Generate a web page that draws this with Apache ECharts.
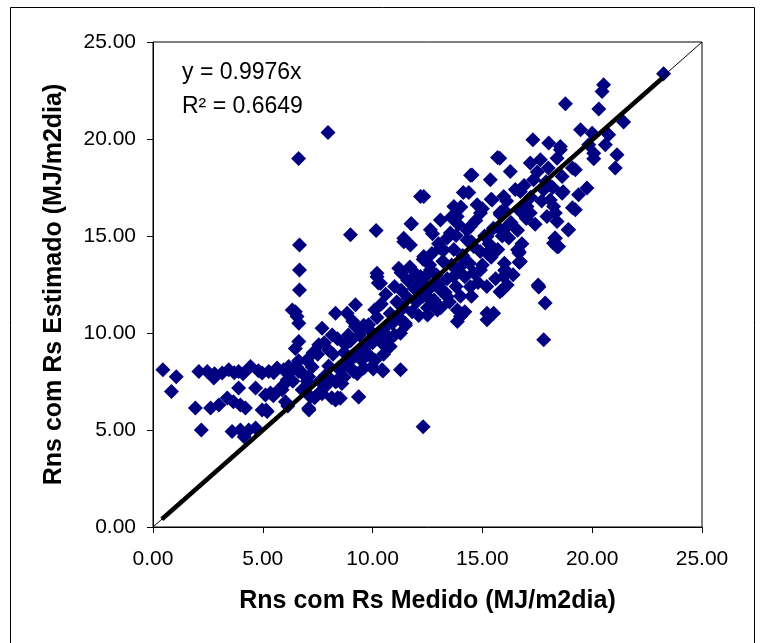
<!DOCTYPE html>
<html lang="pt">
<head>
    <meta charset="utf-8">
    <title>Rns estimado x medido</title>
    <script src="https://cdn.jsdelivr.net/npm/echarts@6/dist/echarts.min.js"></script>
    <style>
        html, body { margin: 0; padding: 0; background: #fff; }
        #chart { width: 764px; height: 643px; }
    </style>
</head>
<body>
<div id="chart"></div>

<script>
    // pontos: [Rns medido, Rns estimado]
    var grupoBaixo = [
        [0.45, 8.1], [1.06, 7.75], [0.84, 6.98], [2.2, 5.0], [1.93, 6.14], [2.09, 8.01], [2.47, 8.01],
        [2.62, 6.14], [3.0, 6.29], [2.77, 7.68], [3.15, 7.94], [3.45, 8.1], [3.38, 6.65], [3.66, 6.46],
        [3.9, 7.17], [3.98, 6.29], [4.21, 6.14], [3.9, 8.01], [4.44, 8.27], [4.67, 7.17], [4.97, 7.94],
        [5.27, 8.01], [5.12, 6.81], [5.35, 6.91], [5.65, 8.2], [5.95, 8.1], [5.88, 7.07], [5.58, 6.91],
        [3.6, 4.92], [3.98, 5.0], [4.36, 5.0], [4.67, 5.1], [4.97, 6.03], [5.2, 5.95], [6.11, 7.58],
        [4.15, 4.65], [5.15, 6.03], [5.48, 6.77], [5.92, 7.3], [6.37, 7.51], [6.14, 6.24], [6.03, 6.46],
        [6.79, 7.07], [7.17, 6.72], [7.09, 6.12], [7.1, 6.03], [7.36, 6.66], [7.55, 6.9], [7.7, 6.87],
        [8.14, 6.66], [8.41, 6.66], [8.53, 6.64], [8.31, 6.55], [9.37, 6.72], [9.36, 6.7],
        [2.8, 7.9], [3.7, 7.95], [4.1, 7.9], [4.8, 8.05], [5.5, 7.95], [6.3, 8.05]
    ];

    var colunaSeis = [
        [6.63, 18.99], [6.67, 14.54], [6.67, 13.25], [6.67, 12.22], [6.34, 11.19], [6.48, 11.1],
        [6.56, 10.85], [6.64, 10.5], [6.64, 9.56], [6.48, 9.2], [6.63, 8.57], [6.37, 8.14],
        [6.18, 8.27], [6.64, 8.01], [6.54, 8.25], [6.81, 7.93], [7.09, 7.75], [7.03, 7.51],
        [7.25, 8.25], [7.59, 7.51], [7.87, 7.83], [7.85, 7.24], [8.31, 7.49], [8.36, 7.51],
        [8.58, 8.14], [8.7, 7.72], [9.14, 8.04], [9.14, 8.01]
    ];

    var transicao = [
        [7.97, 20.33], [8.99, 15.06], [10.16, 15.28], [7.7, 10.25], [8.16, 9.9], [9.22, 10.33],
        [9.82, 10.42], [11.49, 10.5], [7.55, 9.39], [8.0, 9.13], [8.76, 9.39], [9.52, 9.13],
        [10.43, 9.47], [11.27, 9.99], [9.98, 8.27], [10.43, 8.1], [11.27, 8.1], [9.22, 11.45],
        [8.31, 11.02], [8.84, 11.02], [7.5, 8.9], [7.8, 9.5], [8.0, 8.3], [8.2, 8.9], [8.4, 9.7],
        [8.5, 8.1], [8.7, 9.0], [8.9, 8.5], [8.9, 9.9], [9.1, 10.6], [7.3, 9.0], [7.0, 8.6],
        [8.1, 7.6], [8.6, 7.4], [9.3, 7.9], [9.6, 8.2], [10.03, 8.14], [10.47, 8.04],
        [10.8, 9.31], [10.69, 9.83]
    ];

    var nucleo = [
        [9.0, 9.6], [9.2, 8.8], [9.4, 9.9], [9.5, 8.6], [9.6, 10.4], [9.7, 9.3], [9.8, 8.9],
        [9.9, 10.1], [10.0, 9.5], [10.1, 11.2], [10.1, 8.6], [10.2, 10.8], [10.3, 9.8], [10.4, 11.5],
        [10.5, 10.2], [10.5, 8.9], [10.6, 12.0], [10.7, 9.6], [10.8, 11.0], [10.9, 10.5], [11.0, 12.4],
        [11.0, 9.9], [11.1, 11.6], [11.2, 10.8], [11.3, 13.1], [11.3, 12.2], [11.4, 11.3], [11.5, 10.4],
        [11.6, 12.7], [11.6, 11.8], [11.7, 13.4], [11.8, 11.1], [11.9, 12.3], [12.0, 13.0], [12.0, 11.6],
        [12.1, 10.9], [12.2, 12.6], [12.3, 13.8], [12.3, 11.9], [12.4, 12.9], [12.5, 11.3], [12.6, 13.5],
        [12.6, 12.3], [12.7, 14.1], [12.8, 11.7], [12.9, 13.0], [13.0, 12.5], [13.0, 14.6], [13.1, 11.3],
        [13.2, 13.7], [13.3, 12.1], [13.4, 14.9], [13.4, 12.8], [13.5, 11.6], [13.6, 13.5], [13.7, 14.3],
        [13.8, 12.4], [13.9, 15.6], [13.9, 13.2], [14.0, 11.9], [14.1, 14.0], [14.2, 12.9], [14.3, 15.3],
        [14.4, 13.6], [14.5, 11.9], [14.5, 14.7], [14.6, 13.1], [14.7, 15.8], [14.8, 12.6], [14.9, 14.2],
        [15.0, 16.4], [15.0, 13.5], [15.1, 15.0], [15.2, 12.4], [15.3, 14.6], [15.4, 16.9], [15.4, 13.9],
        [15.5, 15.4], [15.6, 12.8], [15.7, 14.3], [15.8, 16.2], [15.9, 15.0], [16.0, 13.6], [16.1, 16.8],
        [16.2, 14.9], [16.3, 15.7], [16.4, 13.0], [16.5, 17.4], [16.6, 15.3], [16.7, 16.3], [16.8, 14.6],
        [16.9, 17.6], [17.0, 15.9], [17.2, 17.0], [17.4, 15.6], [17.5, 18.3], [17.7, 16.8], [17.9, 17.8],
        [18.0, 18.5], [18.2, 17.5],
        [10.2, 13.08], [10.36, 12.57], [11.19, 13.34], [11.42, 14.71], [11.77, 15.63], [11.72, 14.54],
        [10.2, 12.9], [10.26, 12.58], [12.3, 5.17],
        [13.09, 15.83], [13.85, 16.0], [14.91, 16.18], [15.82, 16.09], [17.18, 16.18], [17.94, 16.0],
        [18.24, 14.63], [16.66, 14.12], [16.73, 13.68], [16.04, 13.25], [15.9, 12.22], [17.56, 12.39],
        [17.86, 11.54], [15.21, 11.02], [15.51, 11.02], [14.0, 10.85], [13.86, 11.19], [13.09, 14.37],
        [12.63, 15.32], [13.54, 15.15], [14.45, 15.49], [14.3, 14.8], [15.21, 14.97], [15.82, 15.32],
        [16.12, 15.49], [15.21, 14.12], [14.91, 13.25], [14.15, 13.6], [13.69, 12.91], [13.09, 12.22],
        [12.48, 11.88], [12.78, 11.54], [13.39, 11.88], [14.45, 12.39], [15.97, 12.91], [12.33, 13.94],
        [12.63, 13.25], [12.18, 12.91], [15.51, 14.29], [14.6, 14.46], [17.79, 9.65], [13.86, 10.59],
        [15.21, 10.68], [12.95, 11.19], [12.5, 10.93], [14.2, 11.1], [16.13, 12.48], [15.8, 12.12],
        [16.68, 13.64], [16.68, 14.17], [16.02, 13.22], [17.54, 12.48], [17.57, 12.37]
    ];

    var topo = [
        [12.18, 17.03], [12.33, 17.03], [17.3, 19.96], [18.02, 19.79], [15.79, 19.01], [14.53, 18.15],
        [14.38, 17.24], [15.36, 17.9], [16.27, 18.32], [17.18, 18.76], [17.64, 18.93], [18.4, 19.01],
        [13.7, 16.52], [14.76, 16.61], [15.44, 16.86], [15.97, 17.03], [16.73, 17.29], [17.33, 17.9],
        [17.79, 17.38], [18.09, 16.86], [18.24, 16.52], [17.03, 16.52], [15.97, 16.35], [11.75, 15.63],
        [11.42, 14.89], [13.58, 15.97], [13.8, 15.02], [14.02, 16.5], [14.13, 17.24], [12.73, 15.12],
        [13.24, 14.28], [16.6, 14.29], [16.7, 13.67], [18.3, 14.9], [18.4, 14.44], [18.9, 15.32],
        [19.1, 16.45], [18.68, 17.28], [19.1, 18.5], [18.55, 19.44],
        [23.25, 23.36], [20.52, 22.8], [20.45, 22.45], [18.78, 21.82], [20.3, 21.54], [21.43, 20.87],
        [19.47, 20.48], [20.0, 20.3], [20.75, 20.22], [20.6, 19.7], [18.55, 19.61], [19.84, 19.7],
        [20.07, 19.27], [21.13, 19.19], [20.07, 18.98], [21.05, 18.5], [19.23, 18.41], [18.63, 18.07],
        [19.76, 17.47], [19.38, 17.12], [18.63, 17.21], [19.23, 16.35], [18.32, 16.18], [18.4, 15.75],
        [18.93, 15.32], [18.32, 14.89], [18.47, 14.46], [15.69, 19.04], [14.46, 18.13]
    ];

    var inclinacao = 0.9976;
    var trendX = [0.4, 23.2];
    var identidade = [[-0.5, -0.5], [25, 25]];
    var ticks = [0, 5, 10, 15, 20, 25];

    var pontos = grupoBaixo.concat(colunaSeis, transicao, nucleo, topo);
    var tendencia = trendX.map(function (x) { return [x, x * inclinacao]; });

    var fonte = '"Liberation Sans", Arial, sans-serif';
    var chart = echarts.init(document.getElementById('chart'));

    function eixo(nome, gap, margem) {
        return {
            type: 'value',
            min: ticks[0],
            max: ticks[ticks.length - 1],
            interval: 5,
            name: nome,
            nameLocation: 'middle',
            nameGap: gap,
            nameTextStyle: { fontFamily: fonte, fontSize: 25, fontWeight: 'bold', color: '#000' },
            axisLine: { lineStyle: { color: '#000', width: 1 } },
            axisTick: { show: true, inside: false, length: 6, lineStyle: { color: '#000' } },
            axisLabel: {
                fontFamily: fonte, fontSize: 21, color: '#000', margin: margem,
                formatter: function (v) { return v.toFixed(2); }
            },
            splitLine: { show: false }
        };
    }

    chart.setOption({
        animation: false,
        backgroundColor: '#fff',
        grid: {
            left: 153, right: 62, top: 42, bottom: 116,
            show: true, borderColor: '#000', borderWidth: 1
        },
        xAxis: eixo('Rns com Rs Medido (MJ/m2dia)', 62, 22),
        yAxis: eixo('Rns com Rs Estimado (MJ/m2dia)', 86, 17),
        graphic: [
            {
                type: 'rect', silent: true,
                shape: { x: 10.5, y: 7.5, width: 744, height: 700 },
                style: { fill: 'none', stroke: '#000', lineWidth: 1 }
            },
            {
                type: 'text', left: 182, top: 61,
                style: { text: 'y = 0.9976x', font: '23px ' + fonte, fill: '#000' }
            },
            {
                type: 'text', left: 182, top: 95,
                style: { text: 'R² = 0.6649', font: '23px ' + fonte, fill: '#000' }
            }
        ],
        series: [
            {
                type: 'scatter',
                data: pontos,
                symbol: 'diamond',
                symbolSize: 15,
                itemStyle: { color: '#000080', opacity: 1 },
                z: 2
            },
            {
                type: 'line',
                data: identidade,
                symbol: 'none',
                clip: false,
                lineStyle: { color: '#000', width: 1 },
                z: 3
            },
            {
                type: 'line',
                data: tendencia,
                symbol: 'none',
                lineStyle: { color: '#000', width: 4.5 },
                z: 4
            }
        ]
    });
</script>
</body>
</html>
